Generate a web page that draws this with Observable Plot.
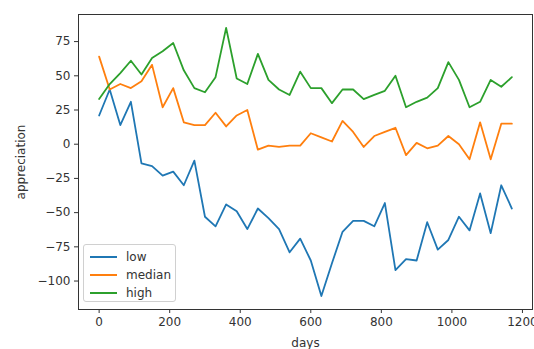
<!DOCTYPE html>
<html>
<head>
<meta charset="utf-8">
<script src="https://cdn.jsdelivr.net/npm/d3@7"></script>
<script src="https://cdn.jsdelivr.net/npm/@observablehq/plot@0.6"></script>
<style>
  html, body { margin: 0; padding: 0; background: white; }
  #wrap { position: relative; width: 534px; height: 349px; }
  #legend {
    position: absolute; left: 83px; top: 244px; width: 93px; height: 58px;
    border: 1px solid #d0d0d0; border-radius: 3px; background: rgba(255,255,255,0.85);
    font-family: "DejaVu Sans", sans-serif; font-size: 12px; color: #333;
    box-sizing: border-box; padding-top: 3px;
  }
  .row { display: flex; align-items: center; height: 18px; }
  .sw { width: 27px; height: 2px; margin-left: 6px; margin-right: 9px; }
</style>
</head>
<body>
<div id="wrap"><div id="legend"></div></div>
<script>
const days = [0, 30, 60, 90, 120, 150, 180, 210, 240, 270, 300, 330, 360, 390, 420, 450, 480, 510, 540, 570,
              600, 630, 660, 690, 720, 750, 780, 810, 840, 870, 900, 930, 960, 990, 1020, 1050, 1080, 1110, 1140, 1170];
const low = [21, 40, 14, 31, -14, -16, -23, -20, -30, -12, -53, -60, -44, -49, -62, -47, -54, -62, -79, -69,
             -85, -111, -87, -64, -56, -56, -60, -43, -92, -84, -85, -57, -77, -70, -53, -63, -36, -65, -30, -47];
const median = [64, 40, 44, 41, 46, 58, 27, 41, 16, 14, 14, 23, 13, 21, 25, -4, -1, -2, -1, -1,
                8, 5, 2, 17, 9, -2, 6, 9, 12, -8, 1, -3, -1, 6, 0, -11, 16, -11, 15, 15];
const high = [33, 44, 52, 61, 51, 63, 68, 74, 54, 41, 38, 49, 85, 48, 44, 66, 47, 40, 36, 53,
              41, 41, 30, 40, 40, 33, 36, 39, 50, 27, 31, 34, 41, 60, 47, 27, 31, 47, 42, 49];
const seriesNames = ["low", "median", "high"];
const seriesColors = ["#1f77b4", "#ff7f0e", "#2ca02c"];
const xTicks = [0, 200, 400, 600, 800, 1000, 1200];
const yTicks = [-100, -75, -50, -25, 0, 25, 50, 75];

const seriesValues = [low, median, high];
const rows = [];
seriesNames.forEach((name, s) => days.forEach((d, i) => rows.push({series: name, day: d, value: seriesValues[s][i]})));

const all = [...low, ...median, ...high];
const yMin = d3.min(all), yMax = d3.max(all);
const yPad = (yMax - yMin) * 0.05;
const xMin = d3.min(days), xMax = d3.max(days);
const xPad = (xMax - xMin) * 0.05;
const fmt = d3.format("d");

const chart = Plot.plot({
  width: 534,
  height: 349,
  marginLeft: 78,
  marginRight: 2,
  marginTop: 14,
  marginBottom: 40,
  style: {fontFamily: "DejaVu Sans, sans-serif", fontSize: "12px", color: "#333", background: "white"},
  x: {domain: [xMin - xPad, xMax + xPad]},
  y: {domain: [yMin - yPad, yMax + yPad]},
  color: {domain: seriesNames, range: seriesColors},
  marks: [
    Plot.axisX({ticks: xTicks, tickFormat: fmt, tickSize: 4, tickPadding: 4, label: "days", labelAnchor: "center", labelArrow: "none", labelOffset: 37}),
    Plot.axisY({ticks: yTicks, tickFormat: fmt, tickSize: 4, tickPadding: 4, label: "appreciation", labelAnchor: "center", labelArrow: "none", labelOffset: 62}),
    ...seriesNames.map(name => Plot.lineY(rows.filter(r => r.series === name), {x: "day", y: "value", stroke: "series", strokeWidth: 1.8})),
    Plot.frame({stroke: "#333", strokeWidth: 1})
  ]
});
document.getElementById("wrap").prepend(chart);

const legend = document.getElementById("legend");
seriesNames.forEach((name, i) => {
  const row = document.createElement("div");
  row.className = "row";
  const sw = document.createElement("span");
  sw.className = "sw";
  sw.style.background = seriesColors[i];
  const t = document.createElement("span");
  t.textContent = name;
  row.append(sw, t);
  legend.append(row);
});
</script>
</body>
</html>
